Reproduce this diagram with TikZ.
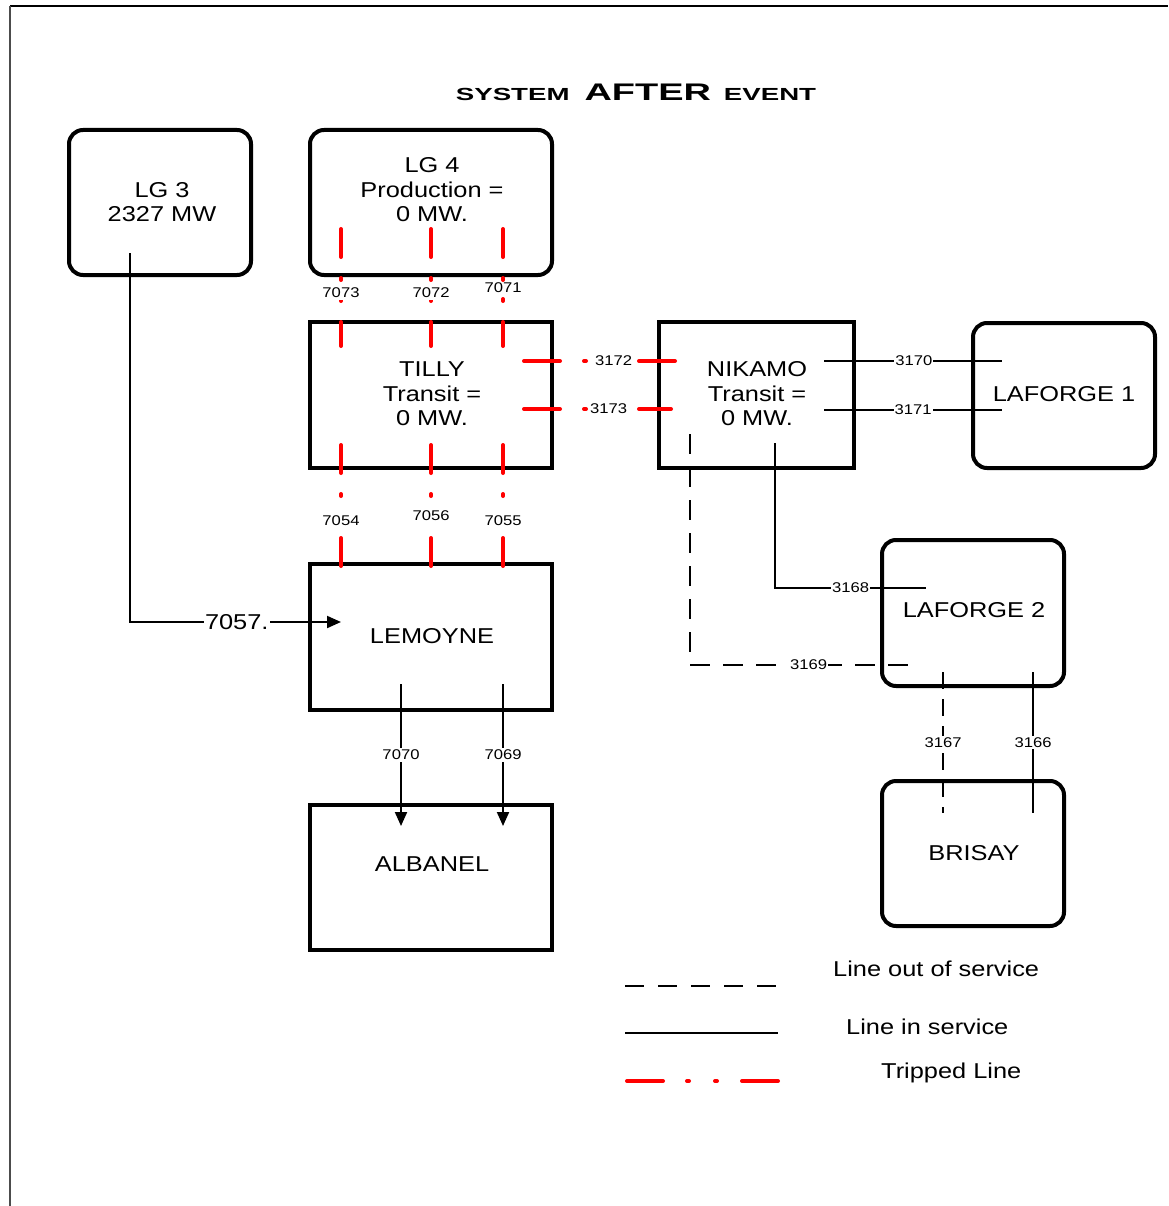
\documentclass[tikz,border=0pt]{standalone}
\usepackage{fontspec}
\usepackage{graphicx}
\setmainfont{Liberation Sans}[FakeStretch=1.18]
\newfontfamily\titlefont{Liberation Sans}
\newcommand{\widebold}[2]{\scalebox{1.58}[1]{\titlefont\bfseries\fontsize{#1}{#1}\selectfont #2}}
\usetikzlibrary{arrows.meta}
\begin{document}
\begin{tikzpicture}[x=1pt,y=-1pt,
  box/.style={draw, line width=4pt, inner sep=0pt, minimum height=145pt},
  rbox/.style={box, rounded corners=14pt},
  bodytext/.style={font=\fontsize{21.5}{24.5}\selectfont, align=center, inner sep=0pt},
  lbl/.style={font=\fontsize{14.1}{16}\selectfont, text=black, fill=white, inner xsep=1.5pt, inner ysep=2pt},
  live/.style={line width=2pt},
  outage/.style={line width=2pt, dash pattern=on 20pt off 13pt},
  outageshort/.style={line width=2pt, dash pattern=on 17pt off 10pt},
  tripped/.style={red, line width=4pt, line cap=round,
    dash pattern=on 28pt off 21pt on 2pt off 19pt on 2pt off 21pt},
  trippedlong/.style={red, line width=4pt, line cap=round,
    dash pattern=on 36pt off 24pt on 2pt off 26pt on 2pt off 25pt},
  tip/.style={-{Triangle[length=14pt,width=12pt]}},
]
\useasboundingbox (0,0) rectangle (1168,1206);

% page frame
\draw[line width=1.2pt] (10,6) -- (1168,6);
\draw[gray!60!black, line width=1.6pt] (10,6) -- (10,1206);

% title
\node[anchor=base, inner sep=0pt] (title) at (636,101)
  {\widebold{17.5}{SYSTEM}\hspace{15pt}\widebold{24}{AFTER}\hspace{13pt}\widebold{17.5}{EVENT}};

% stations
\node[rbox, minimum width=182pt] (lg3) at (160,202.5) {};
\node[bodytext] (lg3t) at (162,202) {LG 3\\2327 MW};

\node[rbox, minimum width=242pt] (lg4) at (431,202.5) {};
\node[bodytext] (lg4t) at (432,190) {LG 4\\Production =\\0 MW.};

\node[box, minimum width=242pt, minimum height=146pt] (tilly) at (431,395) {};
\node[bodytext] (tillyt) at (432,394) {TILLY\\Transit =\\0 MW.};

\node[box, minimum width=195pt, minimum height=146pt] (nikamo) at (756.5,395) {};
\node[bodytext] (nikamot) at (757,394) {NIKAMO\\Transit =\\0 MW.};

\node[rbox, minimum width=182pt] (laforge1) at (1064,395.5) {};
\node[bodytext] (laforge1t) at (1064,394) {LAFORGE 1};

\node[box, minimum width=242pt, minimum height=146pt] (lemoyne) at (431,637) {};
\node[bodytext] (lemoynet) at (432,636) {LEMOYNE};

\node[box, minimum width=242pt] (albanel) at (431,877.5) {};
\node[bodytext] (albanelt) at (432,864) {ALBANEL};

\node[rbox, minimum width=182pt, minimum height=146pt] (laforge2) at (973,613) {};
\node[bodytext] (laforge2t) at (974,610) {LAFORGE 2};

\node[rbox, minimum width=182pt] (brisay) at (973,853.5) {};
\node[bodytext] (brisayt) at (974,853) {BRISAY};

% tripped lines LG 4 -> TILLY
\draw[tripped] ([xshift=-90pt,yshift=48pt]lg4.south) -- ([xshift=-90pt,yshift=-26pt]tilly.north)
  node[lbl, pos=0.545] (l7073) {7073};
\draw[tripped] ([yshift=48pt]lg4.south) -- ([yshift=-26pt]tilly.north)
  node[lbl, pos=0.545] (l7072) {7072};
\draw[tripped] ([xshift=72pt,yshift=48pt]lg4.south) -- ([xshift=72pt,yshift=-26pt]tilly.north)
  node[lbl, pos=0.50, inner ysep=1pt] (l7071) {7071};

% tripped lines TILLY -> LEMOYNE
\draw[tripped] ([xshift=-90pt,yshift=25pt]tilly.south) -- ([xshift=-90pt,yshift=-23.5pt]lemoyne.north)
  node[lbl, pos=0.535] (l7054) {7054};
\draw[tripped] ([yshift=25pt]tilly.south) -- ([yshift=-23.5pt]lemoyne.north)
  node[lbl, pos=0.50] (l7056) {7056};
\draw[tripped] ([xshift=72pt,yshift=25pt]tilly.south) -- ([xshift=72pt,yshift=-23.5pt]lemoyne.north)
  node[lbl, pos=0.535] (l7055) {7055};

% tripped lines TILLY -> NIKAMO
\draw[trippedlong] ([xshift=-30pt,yshift=34pt]tilly.east) -- ([xshift=40.5pt,yshift=34pt]nikamo.west)
  node[lbl, pos=0.517, inner xsep=1pt] (l3172) {3172};
\draw[trippedlong] ([xshift=-30pt,yshift=-14pt]tilly.east) -- ([xshift=14pt,yshift=-14pt]nikamo.west)
  node[lbl, pos=0.576, inner xsep=1pt] (l3173) {3173};

% LG 3 -> LEMOYNE
\draw[live, tip] ([xshift=-30pt,yshift=24pt]lg3.south) |- ([xshift=-90pt,yshift=15pt]lemoyne.center)
  node[lbl, pos=0.753, font=\fontsize{21.5}{24.5}\selectfont, inner sep=1pt] (l7057) {7057.};

% LEMOYNE -> ALBANEL
\draw[live, tip] ([xshift=-30pt,yshift=-47pt]lemoyne.center) -- ([xshift=-30pt,yshift=-23pt]albanel.north)
  node[lbl, pos=0.5] (l7070) {7070};
\draw[live, tip] ([xshift=72pt,yshift=-47pt]lemoyne.center) -- ([xshift=72pt,yshift=-23pt]albanel.north)
  node[lbl, pos=0.5] (l7069) {7069};

% NIKAMO -> LAFORGE 1
\draw[live] ([xshift=-32pt,yshift=34pt]nikamo.east) -- ([xshift=31pt,yshift=34.5pt]laforge1.west)
  node[lbl, pos=0.505, inner xsep=1pt] (l3170) {3170};
\draw[live] ([xshift=-32pt,yshift=-15pt]nikamo.east) -- ([xshift=31pt,yshift=-14.5pt]laforge1.west)
  node[lbl, pos=0.5, inner xsep=1pt] (l3171) {3171};

% NIKAMO -> LAFORGE 2
\draw[live] ([xshift=18.5pt,yshift=27pt]nikamo.south) |- ([xshift=-47pt,yshift=25pt]laforge2.center)
  node[lbl, pos=0.75, inner xsep=1pt] (l3168) {3168};
\draw[outage] ([xshift=-66.5pt,yshift=36pt]nikamo.south) |- ([xshift=-55pt,yshift=-52pt]laforge2.center)
  node[lbl, pos=0.76, inner xsep=1pt] (l3169) {3169};

% LAFORGE 2 -> BRISAY
\draw[outageshort] ([xshift=-30pt,yshift=16pt]laforge2.south) -- ([xshift=-30pt,yshift=-34pt]brisay.north)
  node[lbl, pos=0.5] (l3167) {3167};
\draw[live] ([xshift=60pt,yshift=16pt]laforge2.south) -- ([xshift=60pt,yshift=-34pt]brisay.north)
  node[lbl, pos=0.5] (l3166) {3166};

% legend
\coordinate (k1a) at (625,986);  \coordinate (k1b) at (778,986);
\coordinate (k2a) at (625,1033); \coordinate (k2b) at (778,1033);
\coordinate (k3a) at (627,1081); \coordinate (k3b) at (778,1081);
\draw[line width=2pt, dash pattern=on 19pt off 14pt] (k1a) -- (k1b);
\draw[live] (k2a) -- (k2b);
\draw[trippedlong] (k3a) -- (k3b);
\node[bodytext, anchor=west] (k1t) at (833,969) {Line out of service};
\node[bodytext, anchor=west] (k2t) at (846,1027) {Line in service};
\node[bodytext, anchor=west] (k3t) at (881,1073) {Tripped Line};
\end{tikzpicture}
\end{document}
